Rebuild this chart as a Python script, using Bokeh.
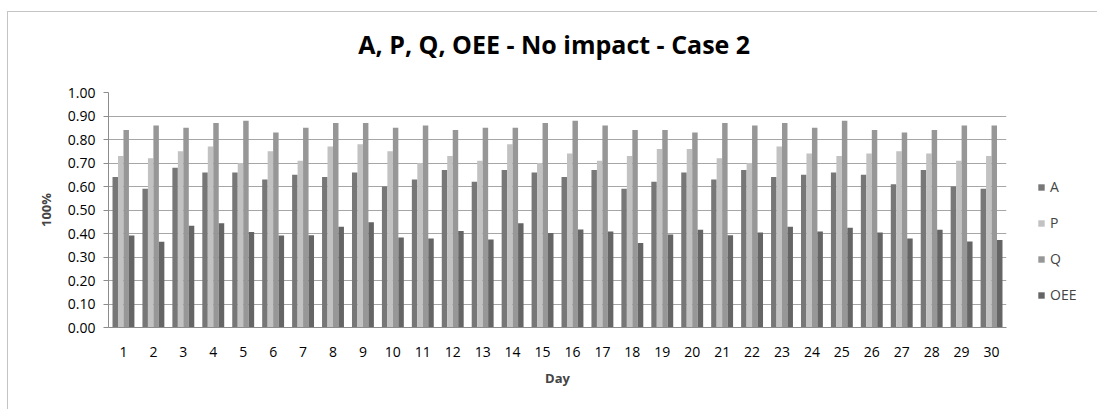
from bokeh.plotting import figure
from bokeh.models import (ColumnDataSource, FactorRange, Legend, LegendItem,
                          FixedTicker, NumeralTickFormatter)
from bokeh.transform import dodge
from bokeh.embed import file_html
from bokeh.resources import INLINE

# Daily availability, performance, quality and overall OEE
days = [str(d) for d in range(1, 31)]
a_vals = [0.64, 0.59, 0.68, 0.66, 0.66, 0.63, 0.65, 0.64, 0.66, 0.60,
          0.63, 0.67, 0.62, 0.67, 0.66, 0.64, 0.67, 0.59, 0.62, 0.66,
          0.63, 0.67, 0.64, 0.65, 0.66, 0.65, 0.61, 0.67, 0.60, 0.59]
p_vals = [0.73, 0.72, 0.75, 0.77, 0.70, 0.75, 0.71, 0.77, 0.78, 0.75,
          0.70, 0.73, 0.71, 0.78, 0.70, 0.74, 0.71, 0.73, 0.76, 0.76,
          0.72, 0.70, 0.77, 0.74, 0.73, 0.74, 0.75, 0.74, 0.71, 0.73]
q_vals = [0.84, 0.86, 0.85, 0.87, 0.88, 0.83, 0.85, 0.87, 0.87, 0.85,
          0.86, 0.84, 0.85, 0.85, 0.87, 0.88, 0.86, 0.84, 0.84, 0.83,
          0.87, 0.86, 0.87, 0.85, 0.88, 0.84, 0.83, 0.84, 0.86, 0.86]
oee_vals = [0.392, 0.365, 0.433, 0.444, 0.406, 0.392, 0.393, 0.429, 0.448, 0.383,
            0.379, 0.411, 0.374, 0.444, 0.402, 0.417, 0.409, 0.360, 0.396, 0.416,
            0.393, 0.404, 0.429, 0.409, 0.425, 0.404, 0.379, 0.416, 0.366, 0.372]
y_ticks = [0.0, 0.1, 0.2, 0.3, 0.4, 0.5, 0.6, 0.7, 0.8, 0.9, 1.0]

source = ColumnDataSource(dict(day=days, A=a_vals, P=p_vals, Q=q_vals, OEE=oee_vals))

FONT = "Open Sans"

p = figure(x_range=FactorRange(*days), y_range=(0, 1),
           frame_width=898, frame_height=235,
           min_border_left=100, min_border_right=90,
           min_border_top=80, min_border_bottom=82,
           output_backend="svg", toolbar_location=None,
           title="A, P, Q, OEE  - No impact - Case 2")
p.margin = (11, 0, 0, 7)
p.styles = {"border-left": "1px solid #C4C4C4", "border-top": "1px solid #C4C4C4"}

p.title.align = "center"
p.title.vertical_align = "top"
p.title.text_font = FONT
p.title.text_font_size = "25px"
p.title.text_font_style = "bold"
p.title.text_color = "#000000"
# keep the heading high above the plot frame: room below it comes from padding
try:
    p.title.padding = dict(left=0, right=0, top=0, bottom=30)
    p.title.standoff = 0
except Exception:
    p.title.standoff = 43

p.outline_line_color = None
p.background_fill_color = "white"
p.border_fill_color = "white"

series = [("A", "#777777", -0.2745), ("P", "#C2C2C2", -0.0915),
          ("Q", "#979797", 0.0915), ("OEE", "#656565", 0.2745)]
items = []
for name, color, off in series:
    r = p.vbar(x=dodge("day", off, range=p.x_range), top=name, width=0.183,
               source=source, fill_color=color, line_color=None)
    items.append(LegendItem(label=name, renderers=[r]))

# y axis
p.yaxis.ticker = FixedTicker(ticks=y_ticks)
p.yaxis.formatter = NumeralTickFormatter(format="0.00")
p.yaxis.axis_label = "100%"
p.yaxis.axis_label_text_font = FONT
p.yaxis.axis_label_text_font_style = "bold"
p.yaxis.axis_label_text_font_size = "13px"
p.yaxis.axis_label_standoff = 10
p.yaxis.major_label_text_font = FONT
p.yaxis.major_label_text_font_size = "14px"
p.yaxis.major_label_text_color = "#000000"
p.yaxis.major_label_standoff = 8
p.yaxis.major_tick_in = 0
p.yaxis.major_tick_out = 5
p.yaxis.major_tick_line_color = "#8C8C8C"
p.yaxis.minor_tick_line_color = None
p.yaxis.axis_line_color = "#8C8C8C"

# x axis
p.xaxis.axis_label = "Day"
p.xaxis.axis_label_text_font = FONT
p.xaxis.axis_label_text_font_style = "bold"
p.xaxis.axis_label_text_font_size = "13px"
p.xaxis.axis_label_standoff = 9
p.xaxis.major_label_text_font = FONT
p.xaxis.major_label_text_font_size = "14px"
p.xaxis.major_label_text_color = "#000000"
p.xaxis.major_label_standoff = 13
p.xaxis.major_tick_line_color = None
p.xaxis.axis_line_color = "#8C8C8C"

p.xgrid.grid_line_color = None
p.ygrid.grid_line_color = "#A6A6A6"
p.ygrid.grid_line_width = 1

legend = Legend(items=items, location=(31, 23),
                glyph_width=8, glyph_height=8,
                label_text_font=FONT, label_text_font_size="14px",
                label_height=16, label_standoff=5, spacing=17,
                padding=10, margin=0,
                border_line_color=None, background_fill_alpha=0)
p.add_layout(legend, "right")

open("out.html", "w").write(file_html(p, INLINE))
